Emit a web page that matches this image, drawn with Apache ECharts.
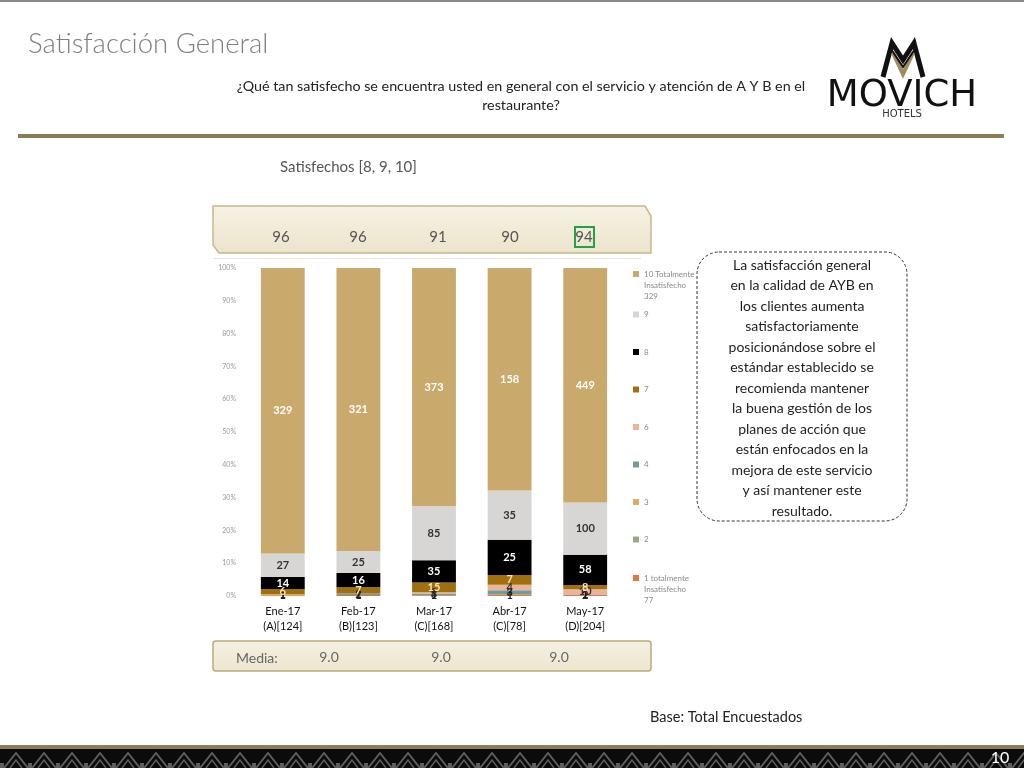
<!DOCTYPE html>
<html>
<head>
<meta charset="utf-8">
<script src="https://cdn.jsdelivr.net/npm/echarts@6/dist/echarts.min.js"></script>
<style>
html,body{margin:0;padding:0;background:#fff;}
#c{width:1024px;height:768px;}
</style>
</head>
<body>
<div id="c"></div>
<script>
// ---- data ----
var months = ['Ene-17', 'Feb-17', 'Mar-17', 'Abr-17', 'May-17'];
var bases = ['(A)[124]', '(B)[123]', '(C)[168]', '(C)[78]', '(D)[204]'];
var satisfechos = [96, 96, 91, 90, 94];
var medias = ['9.0', '9.0', '9.0'];
var seriesNames = ['1 totalmente Insatisfecho', '2', '3', '4', '6', '7', '8', '9', '10 Totalmente Insatisfecho'];
var c1 = [1, 1, 1, 1, 2];
var c2 = [0, 0, 0, 0, 0];
var c3 = [1, 0, 0, 0, 0];
var c4 = [0, 2, 3, 3, 1];
var c6 = [0, 0, 2, 4, 10];
var c7 = [6, 7, 15, 7, 8];
var c8 = [14, 16, 35, 25, 58];
var c9 = [27, 25, 85, 35, 100];
var c10 = [329, 321, 373, 158, 449];
var yTicks = [0, 10, 20, 30, 40, 50, 60, 70, 80, 90, 100];
var noteLines = ['La satisfacción general', 'en la calidad de AYB en', 'los clientes aumenta', 'satisfactoriamente',
  'posicionándose sobre el', 'estándar establecido se', 'recomienda mantener', 'la buena gestión de los',
  'planes de acción que', 'están enfocados en la', 'mejora de este servicio', 'y así mantener este', 'resultado.'];

// ---- styling ----
var counts = [c1, c2, c3, c4, c6, c7, c8, c9, c10];
var colors = ['#e07a40', '#9aa880', '#d9b060', '#6f9c98', '#eab49c', '#a0700f', '#000000', '#d8d5d5', '#c9a96c'];
var labelColors = ['#222', '#222', '#222', '#222', '#333', '#fbe7b0', '#ffffff', '#333333', '#ffffff'];
var totals = months.map(function (m, i) {
  var s = 0; counts.forEach(function (c) { s += c[i]; }); return s;
});

var series = counts.map(function (c, si) {
  return {
    name: seriesNames[si],
    type: 'bar',
    stack: 'all',
    barWidth: '58%',
    itemStyle: { color: colors[si] },
    label: {
      show: true,
      position: 'inside',
      fontFamily: 'Lato',
      fontWeight: 'bold',
      fontSize: 11,
      color: labelColors[si],
      formatter: function (p) { var v = counts[si][p.dataIndex]; return v > 0 ? String(v) : ''; }
    },
    data: c.map(function (v, i) { return v / totals[i] * 100; })
  };
});

var legendNames = {
  '10 Totalmente Insatisfecho': ' \n \n10 Totalmente\nInsatisfecho\n329',
  '1 totalmente Insatisfecho': ' \n \n1 totalmente\nInsatisfecho\n77'
};
function legendFmt(n) { return legendNames[n] || n; }
var legendBase = {
  orient: 'vertical', left: 628, itemWidth: 6, itemHeight: 6, icon: 'rect',
  formatter: legendFmt, selectedMode: false
};
var legText = { fontSize: 8, color: '#8a8a8a', fontFamily: 'Lato', lineHeight: 11 };

// ---- graphic decorations ----
var g = [];
function T(x, y, text, font, fill, align, extra) {
  var st = { text: text, font: font, fill: fill, align: align || 'left', textAlign: align || 'left', verticalAlign: 'middle', textVerticalAlign: 'middle' };
  if (extra) Object.assign(st, extra);
  return { type: 'text', x: x, y: y, style: st };
}
g.push({ type: 'rect', shape: { x: 0, y: 0, width: 1024, height: 2 }, style: { fill: '#8a8a8a' } });
g.push(T(28, 44, 'Satisfacción General', '300 27.5px Lato', '#7f7f7f'));
g.push(T(521, 96, '¿Qué tan satisfecho se encuentra usted en general con el servicio y atención de A Y B en el\nrestaurante?', '14.3px Lato', '#222', 'center', { lineHeight: 19 }));
// logo
g.push({ type: 'polyline', shape: { points: [[883, 77], [892, 43], [903, 60], [914, 43], [923, 77]] }, style: { stroke: '#111', lineWidth: 5, fill: null, lineJoin: 'miter' } });
g.push({ type: 'polyline', shape: { points: [[893, 53], [903, 74], [913, 53]] }, style: { stroke: '#a08c5b', lineWidth: 4, fill: null } });
g.push({ type: 'polyline', shape: { points: [[891, 49], [903, 67], [915, 49]] }, style: { stroke: '#111', lineWidth: 2, fill: null } });
g.push(T(902, 96, 'MOVICH', '37px "DejaVu Sans"', '#111', 'center'));
g.push(T(902, 114, 'HOTELS', '10px "DejaVu Sans"', '#333', 'center'));
// rule
g.push({ type: 'rect', shape: { x: 18, y: 134, width: 986, height: 4 }, style: { fill: '#8c7c55' } });
g.push(T(280, 167, 'Satisfechos [8, 9, 10]', '15px Lato', '#555'));
// top banner
g.push({ type: 'polygon', shape: { points: [[213, 206], [645, 206], [651, 216], [651, 253], [219, 253], [213, 245]] }, style: { fill: { type: 'linear', x: 0, y: 0, x2: 0, y2: 1, colorStops: [{ offset: 0, color: '#f6f2e4' }, { offset: 1, color: '#ece4cb' }] }, stroke: '#c6b88c', lineWidth: 1.5 } });
var bannerX = [281, 358, 438, 510, 584];
satisfechos.forEach(function (v, i) {
  g.push(T(bannerX[i], 237, String(v), '15px Lato', '#555', 'center'));
});
g.push({ type: 'rect', shape: { x: 575, y: 227, width: 19, height: 20 }, style: { fill: null, stroke: '#22a04a', lineWidth: 2 } });
g.push({ type: 'rect', shape: { x: 213, y: 258, width: 428, height: 1 }, style: { fill: '#e4e4e4' } });
// note box
g.push({ type: 'rect', shape: { x: 697, y: 252, width: 210, height: 269, r: 22 }, style: { fill: '#fff', stroke: '#333', lineWidth: 1, lineDash: [3, 2] } });
g.push({ type: 'text', x: 802, y: 255, style: { text: noteLines.join('\n'), font: '14px Lato', fill: '#1e1e1e', align: 'center', textAlign: 'center', verticalAlign: 'top', textVerticalAlign: 'top', lineHeight: 20.5 } });
// media box
g.push({ type: 'rect', shape: { x: 213, y: 641, width: 438, height: 30, r: 3 }, style: { fill: { type: 'linear', x: 0, y: 0, x2: 0, y2: 1, colorStops: [{ offset: 0, color: '#f5f1e2' }, { offset: 1, color: '#ede5cc' }] }, stroke: '#b9aa7c', lineWidth: 1.5 } });
g.push(T(236, 658, 'Media:', '14px Lato', '#666'));
var mediaX = [329, 441, 559];
medias.forEach(function (v, i) {
  g.push(T(mediaX[i], 657, v, '14px Lato', '#666', 'center'));
});
g.push(T(650, 717, 'Base: Total Encuestados', '14.5px Lato', '#222'));
// footer
g.push({ type: 'rect', shape: { x: 0, y: 745, width: 1024, height: 4 }, style: { fill: '#8c7e5a' } });
g.push({ type: 'rect', shape: { x: 0, y: 749, width: 1024, height: 19 }, style: { fill: '#0b0b0b' } });
for (var k = -1; k < 38; k++) {
  var x0 = k * 28 + 4;
  g.push({ type: 'polyline', shape: { points: [[x0, 768], [x0 + 12, 753], [x0 + 24, 768]] }, style: { stroke: '#5e5e5e', lineWidth: 2, fill: null } });
  g.push({ type: 'polyline', shape: { points: [[x0 + 6, 768], [x0 + 12, 760], [x0 + 18, 768]] }, style: { stroke: '#5e5e5e', lineWidth: 1.5, fill: null } });
  g.push({ type: 'rect', shape: { x: x0 + 24, y: 763, width: 4, height: 5 }, style: { fill: '#5e5e5e' } });
}
g.push(T(1000, 758, '10', '16px Lato', '#fff', 'center'));

var chart = echarts.init(document.getElementById('c'), null, { renderer: 'canvas' });
chart.setOption({
  backgroundColor: '#ffffff',
  animation: false,
  grid: { left: 245, right: 401, top: 268, bottom: 172 },
  xAxis: {
    type: 'category',
    data: months,
    axisLine: { show: false },
    axisTick: { show: false },
    axisLabel: {
      margin: 8,
      fontFamily: 'Lato', fontSize: 11, color: '#111', lineHeight: 15,
      formatter: function (v, i) { return v + '\n' + bases[i]; }
    }
  },
  yAxis: {
    type: 'value', min: 0, max: 100, interval: 10,
    axisLine: { show: false }, axisTick: { show: false }, splitLine: { show: false },
    axisLabel: { fontSize: 7, color: '#9a9a9a', fontFamily: 'Lato', margin: 9,
      formatter: function (v) { return yTicks.indexOf(v) >= 0 ? v + '%' : ''; } }
  },
  legend: [
    Object.assign({}, legendBase, { top: 241.5, data: ['10 Totalmente Insatisfecho'], textStyle: legText }),
    Object.assign({}, legendBase, { top: 304, itemGap: 26.5, data: ['9', '8', '7', '6', '4', '3', '2'], textStyle: legText }),
    Object.assign({}, legendBase, { top: 545.5, data: ['1 totalmente Insatisfecho'], textStyle: legText })
  ],
  graphic: g,
  series: series
});
</script>
</body>
</html>
